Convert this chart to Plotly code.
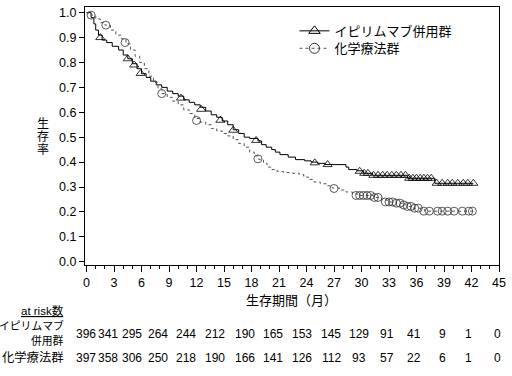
import plotly.graph_objects as go

# ---------------- data ----------------
ipi_t = [0, 0.5, 0.8, 1.0, 1.3, 1.7, 2.2, 2.8, 3.5, 4.0, 4.5, 5.0, 5.5, 6.0, 6.5, 7.0,
         7.6, 8.2, 8.8, 9.4, 10.0, 10.6, 11.2, 11.8, 12.4, 13.0, 13.6, 14.2, 14.8,
         15.4, 16.0, 16.6, 17.2, 17.8, 18.7, 19.1, 19.6, 20.2, 20.6, 21.1, 22.0,
         22.8, 23.8, 24.5, 25.2, 26.0, 28.3, 28.6, 29.5, 30.2, 31.2, 35.0, 38.0, 42.2]
ipi_s = [1.0, 0.98, 0.955, 0.93, 0.91, 0.89, 0.88, 0.865, 0.85, 0.83, 0.815, 0.795,
         0.775, 0.755, 0.74, 0.725, 0.71, 0.70, 0.685, 0.675, 0.665, 0.65, 0.64, 0.63,
         0.62, 0.605, 0.59, 0.58, 0.565, 0.55, 0.53, 0.515, 0.50, 0.495, 0.485, 0.47,
         0.46, 0.45, 0.44, 0.43, 0.42, 0.41, 0.405, 0.40, 0.395, 0.39, 0.38, 0.37,
         0.365, 0.355, 0.347, 0.335, 0.315, 0.315]
ipi_cens_t = [1.5, 4.5, 5.2, 5.9, 10.3, 12.5, 14.6, 16.0, 18.5, 24.9, 26.3, 29.8, 30.3,
              30.7, 31.3, 31.8, 32.3, 32.8, 33.3, 33.8, 34.3, 34.8, 35.2, 35.6, 36.0,
              36.4, 36.8, 37.2, 37.6, 38.2, 38.8, 39.4, 39.9, 40.5, 41.1, 41.6, 42.2]
ipi_cens_s = [0.90, 0.815, 0.79, 0.756, 0.657, 0.612, 0.568, 0.528, 0.487, 0.397, 0.39,
              0.363, 0.355, 0.355, 0.347, 0.347, 0.347, 0.347, 0.347, 0.347, 0.347,
              0.347, 0.335, 0.335, 0.335, 0.335, 0.335, 0.335, 0.335, 0.315, 0.315,
              0.315, 0.315, 0.315, 0.315, 0.315, 0.315]

chemo_t = [0, 0.5, 1.0, 1.5, 2.0, 2.6, 3.2, 3.8, 4.3, 4.8, 5.3, 5.8, 6.3, 6.8, 7.3, 7.8,
           8.2, 8.8, 9.4, 10.0, 10.6, 11.2, 11.8, 12.4, 13.0, 13.6, 14.2, 14.8, 15.4,
           16.0, 16.6, 17.2, 17.8, 18.3, 18.8, 19.3, 19.7, 20.1, 20.8, 21.5, 22.5,
           23.2, 23.7, 24.2, 24.8, 25.5, 26.2, 26.8, 27.6, 28.3, 29.0, 29.6, 31.3,
           32.2, 32.8, 33.8, 34.5, 35.0, 35.6, 36.5, 36.9, 42.2]
chemo_s = [1.0, 0.99, 0.975, 0.96, 0.95, 0.93, 0.91, 0.895, 0.875, 0.85, 0.825, 0.80,
           0.775, 0.745, 0.72, 0.695, 0.675, 0.66, 0.645, 0.63, 0.61, 0.595, 0.575,
           0.56, 0.55, 0.535, 0.525, 0.515, 0.505, 0.49, 0.475, 0.46, 0.44, 0.425,
           0.41, 0.395, 0.38, 0.37, 0.362, 0.358, 0.355, 0.35, 0.34, 0.33, 0.32,
           0.313, 0.305, 0.296, 0.288, 0.28, 0.272, 0.266, 0.258, 0.248, 0.24, 0.235,
           0.228, 0.222, 0.215, 0.21, 0.203, 0.203]
chemo_cens_t = [0.5, 2.1, 4.2, 8.2, 12.0, 18.7, 27.0, 29.4, 29.8, 30.2, 30.6, 31.0,
                31.4, 31.8, 32.6, 33.0, 33.4, 33.8, 34.2, 34.6, 35.0, 35.4, 35.8, 36.2,
                36.8, 37.4, 38.3, 38.8, 39.4, 40.1, 41.0, 41.7, 42.1]
chemo_cens_s = [0.99, 0.95, 0.88, 0.675, 0.567, 0.413, 0.294, 0.266, 0.266, 0.266,
                0.266, 0.266, 0.258, 0.258, 0.24, 0.24, 0.24, 0.235, 0.235, 0.228,
                0.222, 0.222, 0.215, 0.215, 0.203, 0.203, 0.203, 0.203, 0.203, 0.203,
                0.203, 0.203, 0.203]

x_ticks = [0, 3, 6, 9, 12, 15, 18, 21, 24, 27, 30, 33, 36, 39, 42, 45]
risk_ipi = [396, 341, 295, 264, 244, 212, 190, 165, 153, 145, 129, 91, 41, 9, 1, 0]
risk_chemo = [397, 358, 306, 250, 218, 190, 166, 141, 126, 112, 93, 57, 22, 6, 1, 0]

name_ipi = "イピリムマブ併用群"
name_chemo = "化学療法群"
y_title_chars = ["生", "存", "率"]
x_title = "生存期間（月）"
risk_header = "at risk数"
row_label_ipi = ["イピリムマブ", "併用群"]

# ---------------- figure ----------------
FONT = "Liberation Sans, Arial, Noto Sans CJK JP"
W, H = 512, 376
ML, MR, MT, MB = 85, 10, 6, 111
plot_w = W - ML - MR
plot_h = H - MT - MB


def py(pix):
    """screen pixel row -> paper y"""
    return (H - MB - pix) / plot_h


def pxp(pix):
    """screen pixel column -> paper x"""
    return (pix - ML) / plot_w


fig = go.Figure()
fig.add_trace(go.Scatter(x=ipi_t, y=ipi_s, mode="lines",
                         line=dict(color="black", width=1, shape="hv"),
                         showlegend=False, hoverinfo="skip"))
fig.add_trace(go.Scatter(x=ipi_cens_t, y=ipi_cens_s, mode="markers",
                         marker=dict(symbol="triangle-up-open", size=8, color="black",
                                     line=dict(width=0.8)),
                         showlegend=False))
fig.add_trace(go.Scatter(x=chemo_t, y=chemo_s, mode="lines",
                         line=dict(color="#555555", width=1, shape="hv", dash="dot"),
                         showlegend=False, hoverinfo="skip"))
fig.add_trace(go.Scatter(x=chemo_cens_t, y=chemo_cens_s, mode="markers",
                         marker=dict(symbol="circle-open", size=8, color="#333333",
                                     line=dict(width=0.8)),
                         showlegend=False))
# legend entries (two single-item legends for tight row spacing)
fig.add_trace(go.Scatter(x=[None], y=[None], mode="lines+markers", name=name_ipi,
                         line=dict(color="black", width=1), legend="legend",
                         marker=dict(symbol="triangle-up-open", size=10, color="black")))
fig.add_trace(go.Scatter(x=[None], y=[None], mode="lines+markers", name=name_chemo,
                         line=dict(color="#555555", width=1, dash="dot"), legend="legend2",
                         marker=dict(symbol="circle-open", size=10, color="#333333")))

leg_common = dict(xanchor="left", yanchor="middle", bgcolor="rgba(0,0,0,0)",
                  font=dict(size=13), borderwidth=0)

fig.update_layout(
    width=W, height=H, margin=dict(l=ML, r=MR, t=MT, b=MB),
    paper_bgcolor="white", plot_bgcolor="white",
    font=dict(family=FONT, size=12, color="black"),
    legend=dict(x=pxp(296), y=py(30), **leg_common),
    legend2=dict(x=pxp(296), y=py(47.5), **leg_common),
    xaxis=dict(range=[-0.17, 45], tickmode="array", tickvals=x_ticks,
               ticks="outside", ticklen=6, tickcolor="black", showgrid=False, zeroline=False,
               showline=True, linecolor="black", linewidth=1, mirror=True,
               minor=dict(dtick=1, tick0=0, ticks="outside", ticklen=3, tickcolor="black",
                          showgrid=False),
               tickfont=dict(size=12.5)),
    yaxis=dict(range=[-0.0132, 1.0228], tickmode="linear", tick0=0, dtick=0.1,
               tickformat=".1f",
               ticks="outside", ticklen=5, tickcolor="black", showgrid=False, zeroline=False,
               showline=True, linecolor="black", linewidth=1, mirror=True,
               tickfont=dict(size=12.5)),
)

ann = []


def add_text(text, xp, yp, size, xanchor="center", xref="paper", xshift=0):
    ann.append(dict(text=text, x=xp, y=yp, xref=xref, yref="paper", xanchor=xanchor,
                    yanchor="middle", xshift=xshift, showarrow=False, font=dict(size=size)))


for k, ch in enumerate(y_title_chars):
    add_text(ch, pxp(43), py(123 + 13.4 * k), 12)
add_text(x_title, pxp(293), py(301), 13)
add_text("<u>" + risk_header + "</u>", pxp(66), py(311), 11.5, xanchor="right")
for k, lab in enumerate(row_label_ipi):
    add_text(lab, pxp(66), py(326 + 15 * k), 10.8, xanchor="right")
add_text(name_chemo, pxp(66), py(358), 12.3, xanchor="right")
shift = [-1, -6, -10, -11, -11, -9, -7, -6, -5, -3, -3, -2, -3, -2, -3, -2]
for i, t in enumerate(x_ticks):
    add_text(str(risk_ipi[i]), t, py(334), 12, xref="x", xshift=shift[i])
    add_text(str(risk_chemo[i]), t, py(358), 12, xref="x", xshift=shift[i])
fig.update_layout(annotations=ann)

fig.write_html("out.html", config={"displayModeBar": False},
               post_script="document.body.style.margin='0px';")
